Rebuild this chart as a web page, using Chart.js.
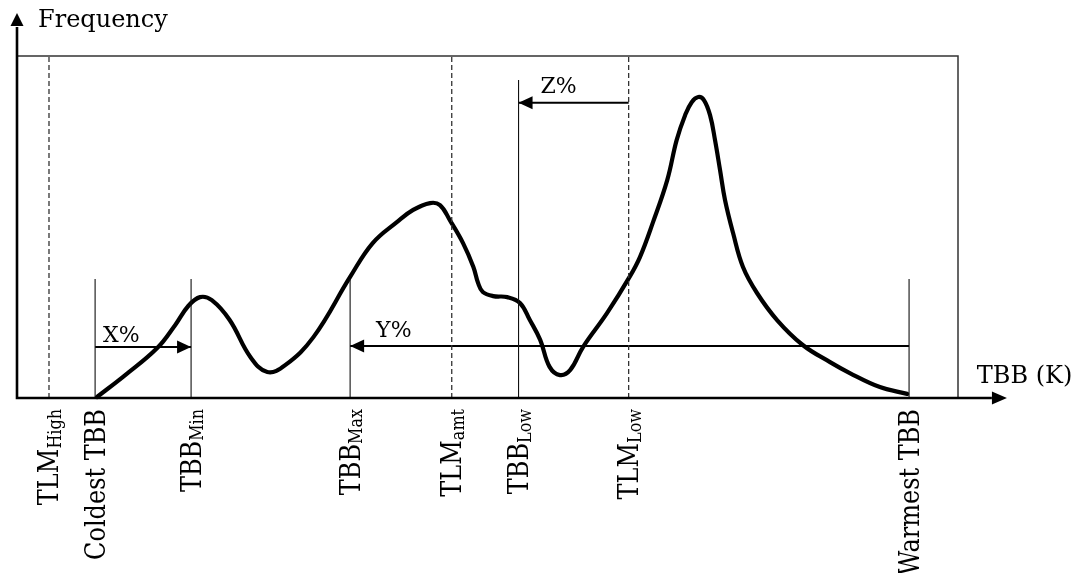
<!DOCTYPE html>
<html>
<head>
<meta charset="utf-8">
<script src="https://cdn.jsdelivr.net/npm/chart.js@4/dist/chart.umd.min.js"></script>
<style>
  html, body { margin: 0; padding: 0; background: #ffffff; }
  #wrap { width: 1080px; height: 573px; }
</style>
</head>
<body>
<div id="wrap"><canvas id="c" width="1080" height="573"></canvas></div>
<script>
// ---- Data (relative TBB 0..100, relative frequency 0..100) ----
const tbb  = [8.5, 11.5, 14.9, 16.8, 18.2, 19.45, 20.7, 22.6, 24.8, 26.6, 28.5, 31.5,
              35.4, 37.8, 40.4, 42.1, 43.9, 44.95, 46.0, 47.4, 48.5, 49.0, 49.5, 50.6, 52.1,
              53.45, 54.5, 55.6, 56.6, 57.7, 58.8, 60.15, 62.7, 65.1, 66.2, 67.6, 69.1,
              70.1, 71.0, 71.7, 72.4, 73.0, 73.65, 74.18, 74.71, 75.24, 76.09, 77.15, 78.64,
              80.77, 83.5, 86.4, 88.5, 91.7, 94.6];
const freq = [0.3, 6.7, 14.6, 21.3, 26.9, 29.5, 28.6, 22.8, 12.0, 7.6, 9.6, 17.8,
              35.4, 45.3, 51.5, 55.0, 57.0, 56.4, 52.0, 45.3, 38.3, 33.6, 31.0, 29.8, 29.5,
              27.8, 22.8, 17.0, 9.1, 6.7, 8.2, 14.9, 24.8, 35.4, 41.2, 51.5, 63.7,
              75.4, 82.7, 86.5, 88.0, 87.1, 82.7, 75.4, 66.7, 57.9, 48.3, 38.3, 30.7,
              22.8, 15.5, 10.5, 7.3, 3.2, 1.2];

// Marker lines on the TBB axis (tick labels)
const markerNames = ['TLM', 'Coldest TBB', 'TBB', 'TBB', 'TLM', 'TBB', 'TLM', 'Warmest TBB'];
const markerSubs  = ['High', '', 'Min', 'Max', 'amt', 'Low', 'Low', ''];
const markerTBB   = [3.4, 8.3, 18.5, 35.4, 46.2, 53.3, 65.0, 94.8];
const markerTop   = [100, 34.8, 34.8, 34.8, 100, 93.0, 100, 34.8];

// Percentage arrows
const arrowLabels = ['X%', 'Y%', 'Z%'];
const arrowFrom   = [8.3, 94.8, 65.0];
const arrowTo     = [18.5, 35.4, 53.3];
const arrowLevel  = [14.9, 15.2, 86.3];

const axisTitleX = 'TBB (K)';
const axisTitleY = 'Frequency';

// ---- Build datasets ----
const datasets = [];
markerTBB.forEach((x, i) => {
  const dashed = markerNames[i] === 'TLM';
  datasets.push({
    data: [{x: x, y: 0}, {x: x, y: markerTop[i]}],
    showLine: true, pointRadius: 0, borderColor: dashed ? '#333' : '#111',
    borderWidth: dashed ? 1.3 : 1.1, borderDash: dashed ? [5, 3] : [], clip: false
  });
});
arrowFrom.forEach((x, i) => {
  datasets.push({
    data: [{x: x, y: arrowLevel[i]}, {x: arrowTo[i], y: arrowLevel[i]}],
    showLine: true, pointRadius: 0, borderColor: '#000', borderWidth: 2, clip: false
  });
});
datasets.push({
  data: tbb.map((x, i) => ({x: x, y: freq[i]})),
  showLine: true, pointRadius: 0, borderColor: '#000', borderWidth: 4.2,
  tension: 0.4, borderCapStyle: 'round', borderJoinStyle: 'round', clip: false
});

const STRETCH = 1.15;
const SERIF = '"DejaVu Serif", "Liberation Serif", serif';

function plainText(ctx, txt, x, y, size) {
  ctx.save();
  ctx.font = size + 'px ' + SERIF;
  ctx.textAlign = 'left';
  ctx.textBaseline = 'alphabetic';
  ctx.fillText(txt, x, y);
  ctx.restore();
}

function arrowHead(ctx, tipX, tipY, dir, len, half) {
  ctx.beginPath();
  if (dir === 'right') { ctx.moveTo(tipX, tipY); ctx.lineTo(tipX - len, tipY - half); ctx.lineTo(tipX - len, tipY + half); }
  else if (dir === 'left') { ctx.moveTo(tipX, tipY); ctx.lineTo(tipX + len, tipY - half); ctx.lineTo(tipX + len, tipY + half); }
  else { ctx.moveTo(tipX, tipY); ctx.lineTo(tipX - half, tipY + len); ctx.lineTo(tipX + half, tipY + len); }
  ctx.closePath();
  ctx.fill();
}

const decor = {
  id: 'decor',
  beforeDatasetsDraw(chart) {
    const {ctx, scales: {x: xs, y: ys}} = chart;
    ctx.save();
    ctx.strokeStyle = '#333';
    ctx.lineWidth = 1.5;
    ctx.beginPath();
    ctx.moveTo(xs.getPixelForValue(0), ys.getPixelForValue(100));
    ctx.lineTo(xs.getPixelForValue(100), ys.getPixelForValue(100));
    ctx.lineTo(xs.getPixelForValue(100), ys.getPixelForValue(0));
    ctx.stroke();
    ctx.restore();
  },
  afterDatasetsDraw(chart) {
    const {ctx, scales: {x: xs, y: ys}} = chart;
    ctx.save();
    ctx.fillStyle = '#000';
    ctx.strokeStyle = '#000';
    const x0 = xs.getPixelForValue(0), y0 = ys.getPixelForValue(0);
    // axes
    ctx.lineWidth = 2.6;
    ctx.beginPath();
    ctx.moveTo(x0, y0); ctx.lineTo(xs.getPixelForValue(103.6), y0);
    ctx.moveTo(x0, y0 + 1.3); ctx.lineTo(x0, ys.getPixelForValue(108.5));
    ctx.stroke();
    arrowHead(ctx, xs.getPixelForValue(105.2), y0, 'right', 15, 6.5);
    arrowHead(ctx, x0, ys.getPixelForValue(112.6), 'up', 13, 6.5);
    // arrowheads for percentage arrows
    arrowFrom.forEach((f, i) => {
      const t = arrowTo[i];
      const dir = t > f ? 'right' : 'left';
      arrowHead(ctx, xs.getPixelForValue(t), ys.getPixelForValue(arrowLevel[i]), dir, 14, 6.5);
    });
    // arrow labels
    const labelOffsets = [8, 26, 22];
    const labelRise = [5, 9, 10];
    arrowFrom.forEach((f, i) => {
      const left = Math.min(xs.getPixelForValue(f), xs.getPixelForValue(arrowTo[i]));
      plainText(ctx, arrowLabels[i], left + labelOffsets[i], ys.getPixelForValue(arrowLevel[i]) - labelRise[i], 22);
    });
    // axis titles
    plainText(ctx, axisTitleY, x0 + 21, ys.getPixelForValue(108.5), 24);
    plainText(ctx, axisTitleX, xs.getPixelForValue(102.0), y0 - 15, 24);
    // rotated tick labels
    markerTBB.forEach((v, i) => {
      const px = xs.getPixelForValue(v);
      ctx.save();
      ctx.translate(px + 9.5, y0 + 11);
      ctx.scale(STRETCH, 1);
      ctx.rotate(-Math.PI / 2);
      ctx.textAlign = 'left';
      ctx.textBaseline = 'alphabetic';
      ctx.font = '24px ' + SERIF;
      const wm = ctx.measureText(markerNames[i]).width;
      ctx.font = '16px ' + SERIF;
      const wsub = markerSubs[i] ? ctx.measureText(markerSubs[i]).width : 0;
      ctx.font = '24px ' + SERIF;
      ctx.fillText(markerNames[i], -(wm + wsub), 0);
      if (markerSubs[i]) {
        ctx.font = '16px ' + SERIF;
        ctx.fillText(markerSubs[i], -wsub, 2.5);
      }
      ctx.restore();
    });
    ctx.restore();
  }
};

new Chart(document.getElementById('c'), {
  type: 'scatter',
  data: { datasets },
  options: {
    responsive: false,
    animation: false,
    events: [],
    layout: { padding: { left: 17, right: 122, top: 56, bottom: 175 } },
    scales: {
      x: { type: 'linear', min: 0, max: 100, display: false },
      y: { type: 'linear', min: 0, max: 100, display: false }
    },
    plugins: { legend: { display: false }, tooltip: { enabled: false } }
  },
  plugins: [decor]
});
</script>
</body>
</html>
